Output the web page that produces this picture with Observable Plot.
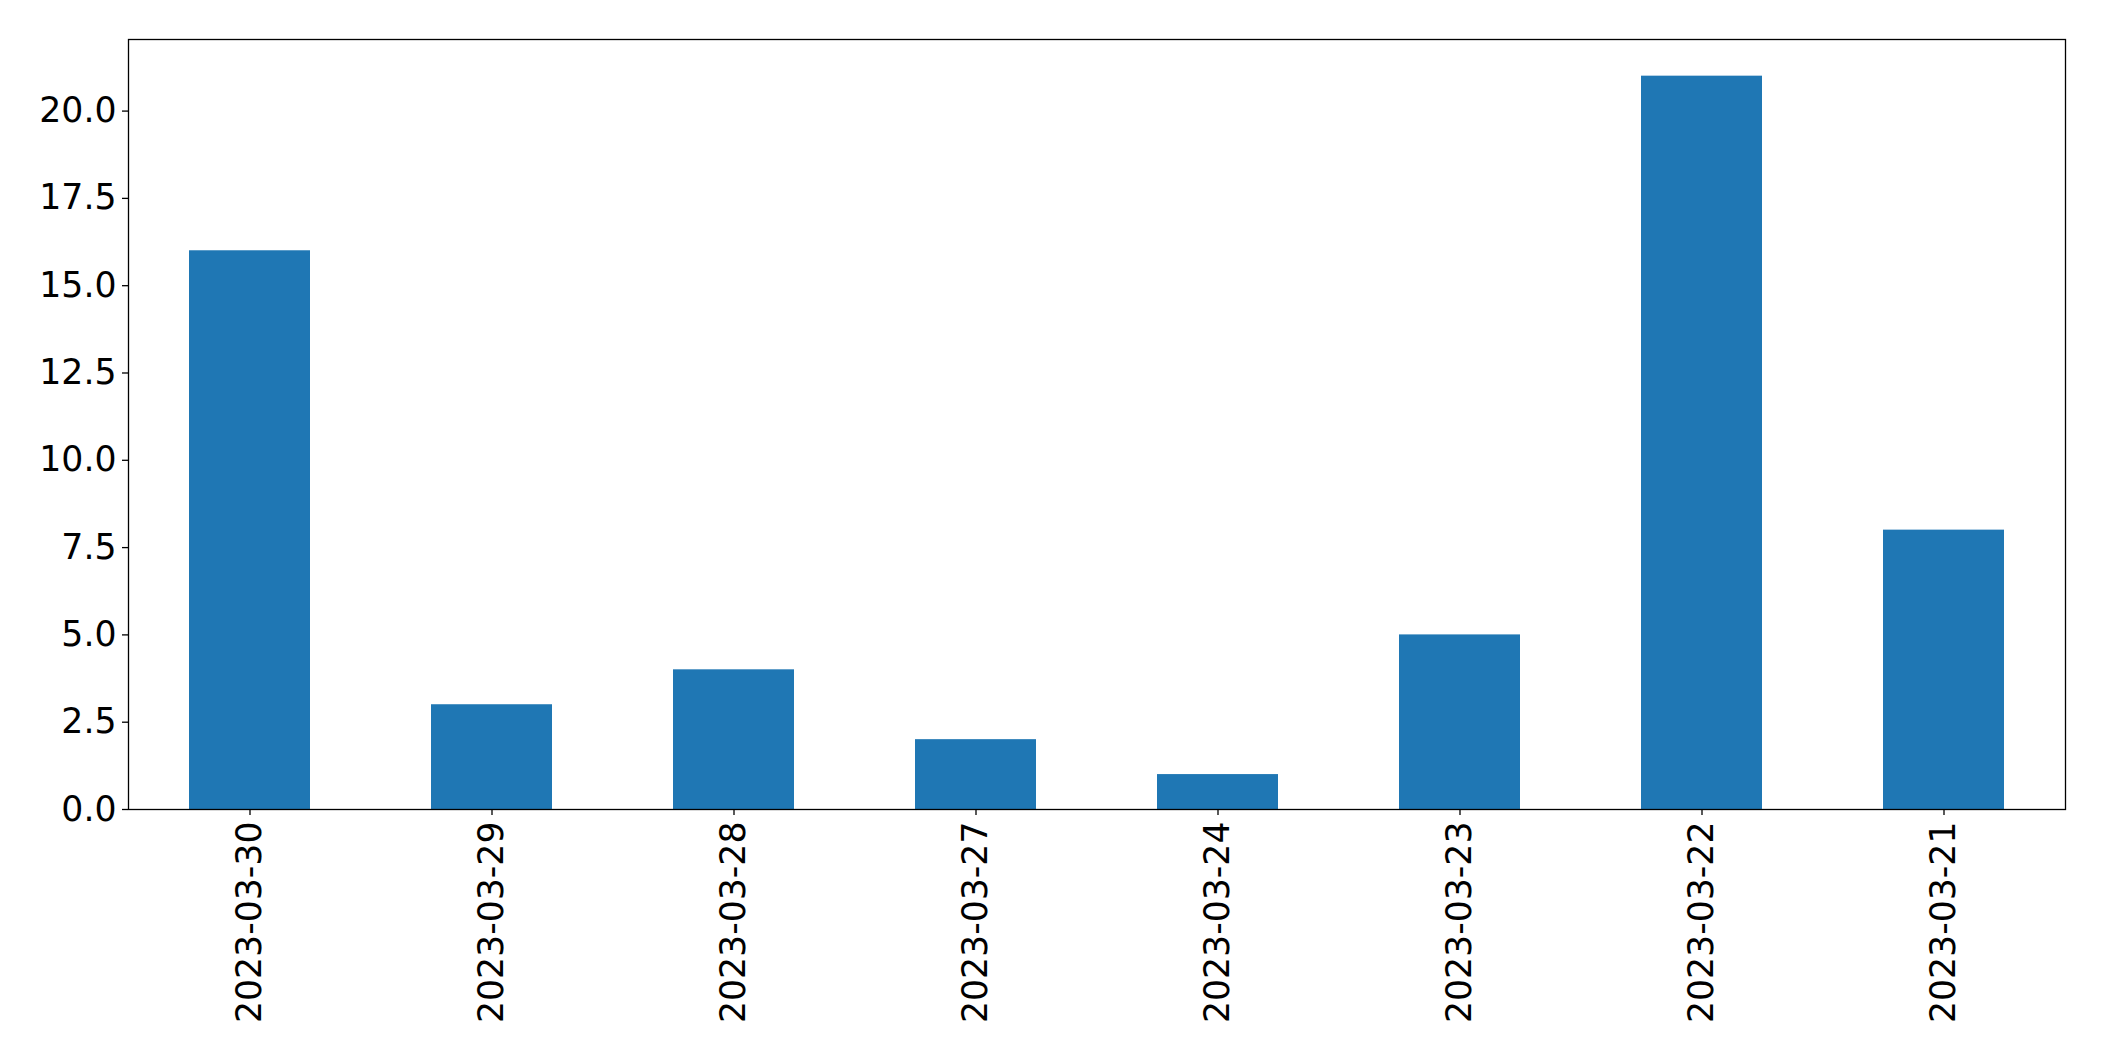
<!DOCTYPE html>
<html>
<head>
<meta charset="utf-8">
<script src="https://cdn.jsdelivr.net/npm/d3@7"></script>
<script src="https://cdn.jsdelivr.net/npm/@observablehq/plot@0.6"></script>
<style>
  html, body { margin: 0; padding: 0; background: #fff; }
  svg { display: block; }
</style>
</head>
<body>
<div id="chart"></div>
<script>
const dates = ["2023-03-30", "2023-03-29", "2023-03-28", "2023-03-27", "2023-03-24", "2023-03-23", "2023-03-22", "2023-03-21"];
const counts = [16, 3, 4, 2, 1, 5, 21, 8];
const yTicks = [0, 2.5, 5, 7.5, 10, 12.5, 15, 17.5, 20];

const data = dates.map((d, i) => ({date: d, count: counts[i]}));

const chart = Plot.plot({
  width: 2104,
  height: 1061,
  marginLeft: 128,
  marginRight: 39,
  marginTop: 39,
  marginBottom: 252,
  style: {fontFamily: "DejaVu Sans", fontSize: "34.7px", color: "#000", background: "#fff"},
  x: {domain: dates, paddingInner: 0.5, paddingOuter: 0.25, label: null},
  y: {domain: [0, 22.05], label: null},
  marks: [
    Plot.barY(data, {x: "date", y: "count", fill: "#1f77b4"}),
    Plot.frame({stroke: "#000", strokeWidth: 1.3}),
    Plot.axisY({ticks: yTicks, tickFormat: d3.format(".1f"), tickSize: 6, tickPadding: 6, fontSize: 34.7, label: null, strokeWidth: 1.3}),
    Plot.axisX({tickSize: 6, tickPadding: 6, tickRotate: -90, fontSize: 34.7, label: null, strokeWidth: 1.3})
  ]
});
document.getElementById("chart").appendChild(chart);
</script>
</body>
</html>
